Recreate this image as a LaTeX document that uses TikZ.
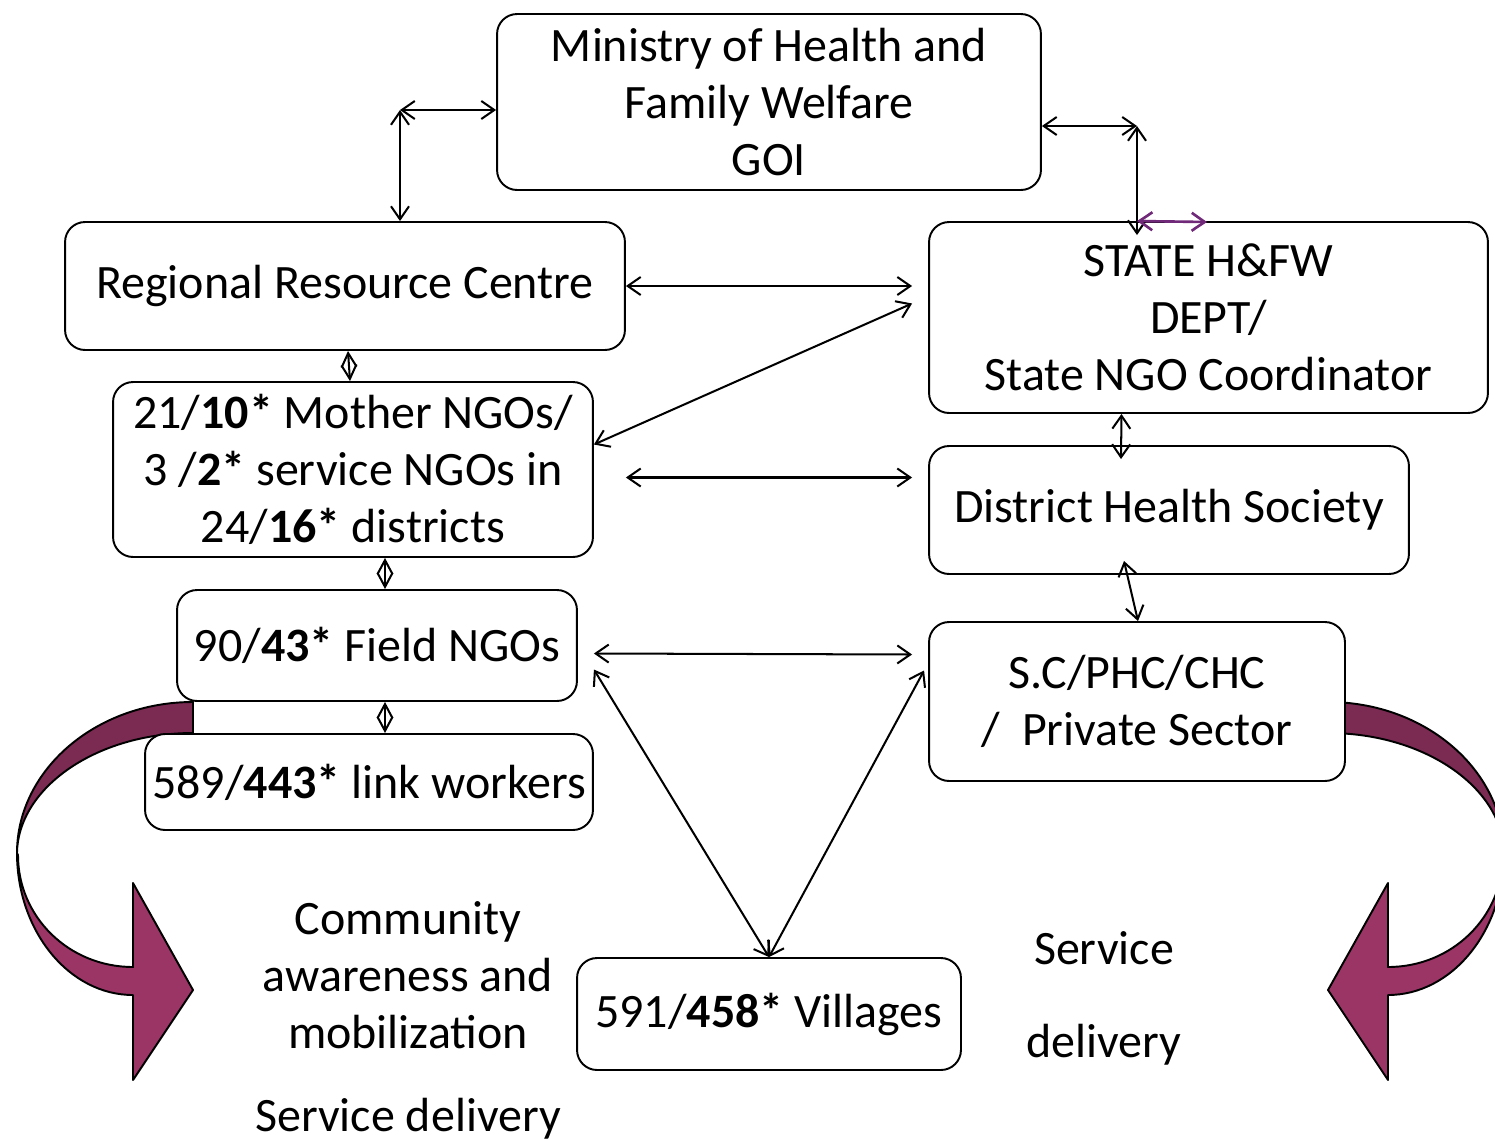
\documentclass[tikz,border=0pt]{standalone}
\usepackage{fontspec}
\setmainfont{Carlito}
\usetikzlibrary{positioning,calc,arrows.meta}
\definecolor{bandlight}{RGB}{155,53,102}
\definecolor{banddark}{RGB}{123,42,82}
\definecolor{linkpurple}{RGB}{112,40,120}

\begin{document}
\begin{tikzpicture}[x=0.02cm,y=-0.02cm,
font=\fontsize{27.3}{32.5}\selectfont,
box/.style={draw,fill=white,rounded corners=0.4cm,line width=1.1pt,align=center,inner sep=0pt},
flow/.style={{Straight Barb[length=2.6mm,width=3.6mm]}-{Straight Barb[length=2.6mm,width=3.6mm]},line width=1.15pt},
short/.style={{Straight Barb[length=2.8mm,width=3mm]}-{Straight Barb[length=2.8mm,width=3mm]},line width=1.15pt},
plain/.style={align=center},
band/.style={draw,line width=1.1pt,line join=round}
]
\useasboundingbox (0,0) rectangle (1495,1140);
\clip (0,0) rectangle (1495,1140);
%-- curved arrows
\fill[band,fill=banddark] (193,702) .. controls (96,702) and (17,770) .. (17,853)
  .. controls (18,788) and (96,733) .. (193,733) -- cycle;
\fill[band,fill=bandlight] (17,853) .. controls (17,931) and (69,995) .. (133,995)
  -- (133,1080) -- (193,990) -- (133,883) -- (133,967)
  .. controls (69,967) and (18,917) .. (18,855) -- cycle;
\begin{scope}[shift={(1521,0)},xscale=-1]
\fill[band,fill=banddark] (193,702) .. controls (96,702) and (17,770) .. (17,853)
  .. controls (18,788) and (96,733) .. (193,733) -- cycle;
\fill[band,fill=bandlight] (17,853) .. controls (17,931) and (69,995) .. (133,995)
  -- (133,1080) -- (193,990) -- (133,883) -- (133,967)
  .. controls (69,967) and (18,917) .. (18,855) -- cycle;
\end{scope}
%-- boxes
\node[box,minimum width=10.88cm,minimum height=3.52cm](mohfw) at (769,102){Ministry of Health and\\Family Welfare\\GOI};
\node[box,minimum width=11.2cm,minimum height=2.56cm](rrc) at (345,286){Regional Resource Centre};
\node[box,minimum width=11.18cm,minimum height=3.82cm](state) at (1208.5,317.5){STATE H\&FW\\DEPT/\\State NGO Coordinator};
\node[box,minimum width=9.6cm,minimum height=3.5cm](mngo) at (353,469.5){21/\textbf{10*} Mother NGOs/\\3 /\textbf{2*} service NGOs in\\24/\textbf{16*} districts};
\node[box,minimum width=9.6cm,minimum height=2.56cm](dhs) at (1169,510){District Health Society};
\node[box,minimum width=8cm,minimum height=2.22cm](field) at (377,645.5){90/\textbf{43*} Field NGOs};
\node[box,minimum width=8.96cm,minimum height=1.92cm](link) at (369,782){589/\textbf{443*} link workers};
\node[box,minimum width=8.32cm,minimum height=3.18cm](sc) at (1137,701.5){S.C/PHC/CHC\\/~~Private Sector};
\node[box,minimum width=7.68cm,minimum height=2.24cm](vill) at (769,1014){591/\textbf{458*} Villages};
%-- free texts
\node[plain](comm) at (408,975){Community\\awareness and\\mobilization};
\node[plain](sdl) at (408,1119){Service delivery};
\node[plain](sdr) at (1104,998){Service\\[0.72cm]delivery};
%-- connectors
\coordinate (tl) at (400,110);
\coordinate (tr) at (1137,126);
\coordinate (sp) at (1207,222);
\draw[flow] (tl) -- (tl -| mohfw.west);
\draw[flow] (tl) -- (tl |- rrc.north);
\draw[flow] (tr -| mohfw.east) -- (tr);
\draw[flow] (tr) -- ($(tr |- state.north)+(0,14)$);
\draw[flow,linkpurple,line width=1.5pt] (tr |- state.north) -- (sp);
\draw[flow] (rrc.east) -- ($(rrc.east -| state.west)+(-16,0)$);
\draw[flow] ($(mngo.east)+(0,-25)$) -- ($(state.west)+(-16,-14)$);
\draw[flow] ($(mngo.east)+(32,8)$) -- ($(mngo.east -| dhs.west)+(-16,8)$);
\draw[short] ($(rrc.south)+(3,0)$) -- ($(mngo.north)+(-3,0)$);
\draw[short] ($(mngo.south)+(32,0)$) -- ($(field.north)+(8,0)$);
\draw[short] ($(field.south)+(8,0)$) -- ($(link.north)+(16,0)$);
\draw[flow] ($(state.south)+(-87,0)$) -- ($(dhs.north)+(-48,14)$);
\draw[flow] ($(dhs.south)+(-45,-14)$) -- ($(sc.north)+(1,0)$);
\draw[flow] ($(field.east)+(16,8)$) -- ($(sc.west)+(-16,-47)$);
\draw[flow] ($(field.east)+(16,24)$) -- (vill.north);
\draw[flow] ($(sc.west)+(-4,-31)$) -- (vill.north);
\end{tikzpicture}
\end{document}
